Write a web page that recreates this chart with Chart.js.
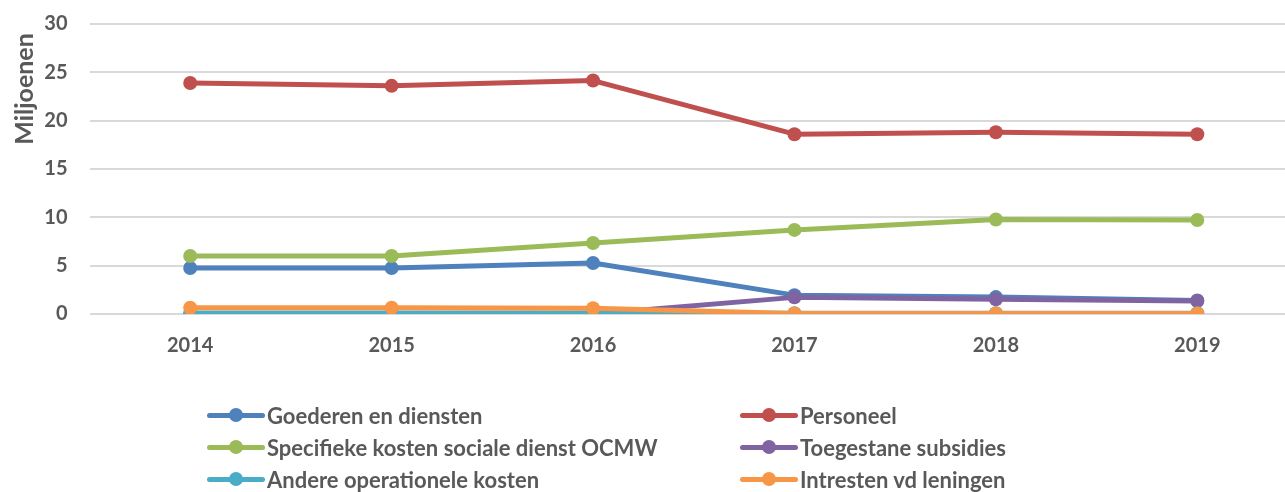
<!DOCTYPE html>
<html>
<head>
<meta charset="utf-8">
<script src="https://cdn.jsdelivr.net/npm/chart.js@4"></script>
<style>
  html, body { margin: 0; padding: 0; background: #fff; overflow: hidden; }
  #wrap { position: relative; width: 1305px; height: 492px; }
  .legend-item { position: absolute; height: 24px; display: flex; align-items: center;
    font-family: Lato, "Open Sans", sans-serif; font-weight: bold; font-size: 22px; color: #595959; white-space: nowrap; }
  .legend-item .sym { position: relative; width: 58px; height: 24px; margin-right: 2px; }
  .legend-item .sym .ln { position: absolute; left: 0; right: 0; top: 9.5px; height: 5px; border-radius: 3px; }
  .legend-item .sym .dot { position: absolute; left: 22px; top: 5px; width: 14px; height: 14px; border-radius: 50%; }
</style>
</head>
<body>
<div id="wrap">
  <canvas id="lineChart" width="1305" height="492"></canvas>
  <div id="legendBox"></div>
</div>
<script>
const years = ['2014', '2015', '2016', '2017', '2018', '2019'];
const yTicks = [0, 5, 10, 15, 20, 25, 30];
const yTitle = 'Miljoenen';

const goederen = [4.76, 4.76, 5.28, 1.95, 1.75, 1.4];
const personeel = [23.9, 23.6, 24.15, 18.6, 18.8, 18.6];
const specifieke = [6.0, 6.0, 7.35, 8.7, 9.78, 9.72];
const subsidies = [0, 0, 0, 1.72, 1.52, 1.35];
const andere = [0.1, 0.1, 0.1, 0.08, 0.08, 0.08];
const intresten = [0.65, 0.65, 0.59, 0.05, 0.05, 0.05];

const seriesNames = ['Goederen en diensten', 'Personeel', 'Specifieke kosten sociale dienst OCMW',
                     'Toegestane subsidies', 'Andere operationele kosten', 'Intresten vd leningen'];
const seriesData = [goederen, personeel, specifieke, subsidies, andere, intresten];
const colors = ['#4F81BD', '#C0504D', '#9BBB59', '#8064A2', '#4BACC6', '#F79646'];

const fontFamily = 'Lato, "Open Sans", sans-serif';
const tickFont = { family: fontFamily, weight: 'bold', size: 20 };

const datasets = seriesNames.map((name, i) => ({
    label: name,
    data: seriesData[i],
    borderColor: colors[i],
    backgroundColor: colors[i],
    borderWidth: 5,
    borderCapStyle: 'round',
    borderJoinStyle: 'round',
    pointRadius: 7,
    pointHoverRadius: 7,
    pointBorderWidth: 0,
    tension: 0,
    order: seriesNames.length - i   // later series drawn on top, like the original
}));

// rotated axis title, placed near the top like in the original
const yTitlePlugin = {
    id: 'yTitle',
    afterDraw(chart) {
        const c = chart.ctx;
        c.save();
        c.translate(25, 89);
        c.rotate(-Math.PI / 2);
        c.font = 'bold 25px ' + fontFamily;
        c.fillStyle = '#595959';
        c.textAlign = 'center';
        c.textBaseline = 'middle';
        c.fillText(yTitle, 0, 0);
        c.restore();
    }
};

const ctx = document.getElementById('lineChart').getContext('2d');
new Chart(ctx, {
    type: 'line',
    data: { labels: years, datasets: datasets },
    plugins: [yTitlePlugin],
    options: {
        responsive: false,
        animation: false,
        layout: { padding: { top: 24, right: 3, left: 0, bottom: 0 } },
        plugins: {
            legend: { display: false },
            tooltip: { enabled: false }
        },
        scales: {
            x: {
                offset: true,
                grid: { display: false },
                border: { display: false },
                ticks: { color: '#595959', font: tickFont, padding: 12 },
                afterFit: function(scale) { scale.height = 178; }
            },
            y: {
                min: 0,
                max: 30,
                afterBuildTicks: function(scale) { scale.ticks = yTicks.map(v => ({ value: v })); },
                grid: { color: '#D9D9D9', lineWidth: 2, drawTicks: true, tickLength: 20, tickColor: 'rgba(0,0,0,0)' },
                border: { display: false },
                ticks: { color: '#595959', font: tickFont, padding: 2 },
                afterFit: function(scale) { scale.width = 89.5; }
            }
        }
    }
});

// legend in two columns below the chart
const legendPos = [[207, 403], [740, 403], [207, 435], [740, 435], [207, 467], [740, 467]];
const legendBox = document.getElementById('legendBox');
seriesNames.forEach((name, i) => {
    const item = document.createElement('div');
    item.className = 'legend-item';
    item.style.left = legendPos[i][0] + 'px';
    item.style.top = legendPos[i][1] + 'px';
    item.innerHTML = '<div class="sym"><div class="ln" style="background:' + colors[i] + '"></div>' +
        '<div class="dot" style="background:' + colors[i] + '"></div></div><span>' + name + '</span>';
    legendBox.appendChild(item);
});
</script>
</body>
</html>
